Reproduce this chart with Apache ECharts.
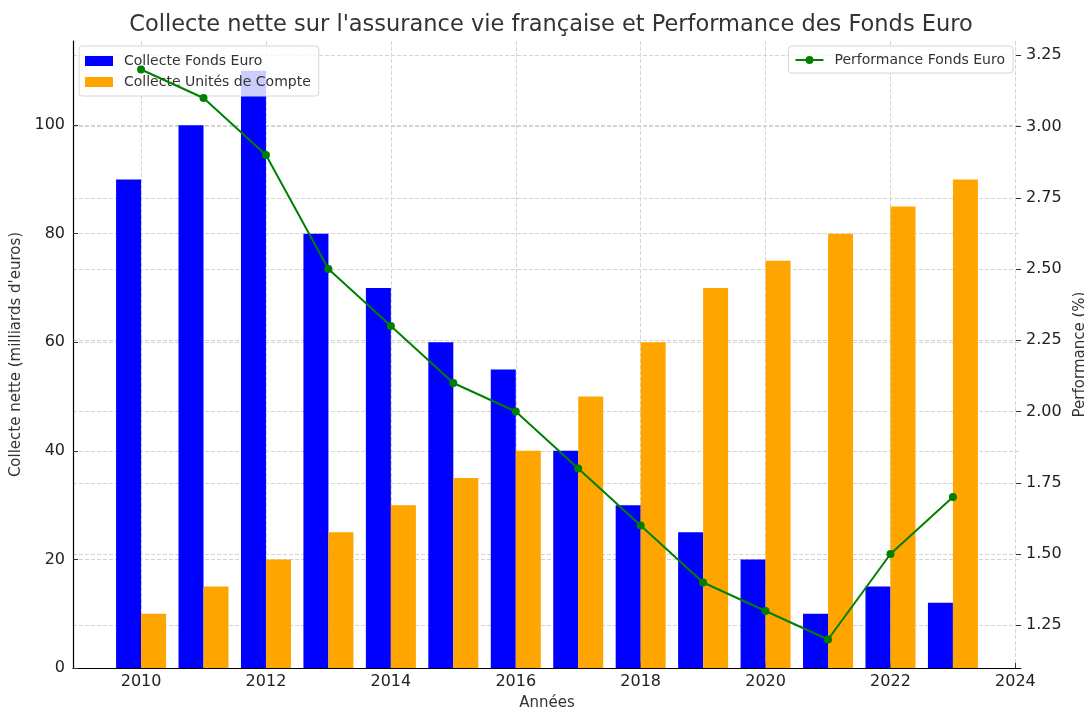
<!DOCTYPE html>
<html>
<head>
<meta charset="utf-8">
<script src="https://cdn.jsdelivr.net/npm/echarts@6/dist/echarts.min.js"></script>
<style>
  html, body { margin: 0; padding: 0; background: #fff; }
  #chart { width: 1084px; height: 709px; }
</style>
</head>
<body>
<div id="chart"></div>
<script>
// données
const years = [2010, 2011, 2012, 2013, 2014, 2015, 2016, 2017, 2018, 2019, 2020, 2021, 2022, 2023];
const fondsEuro = [90, 100, 110, 80, 70, 60, 55, 40, 30, 25, 20, 10, 15, 12];
const unitesCompte = [10, 15, 20, 25, 30, 35, 40, 50, 60, 70, 75, 80, 85, 90];
const performance = [3.2, 3.1, 2.9, 2.5, 2.3, 2.1, 2.0, 1.8, 1.6, 1.4, 1.3, 1.2, 1.5, 1.7];
const xTicks = [2010, 2012, 2014, 2016, 2018, 2020, 2022, 2024];
const leftTicks = [0, 20, 40, 60, 80, 100];
const rightTicks = [1.25, 1.5, 1.75, 2.0, 2.25, 2.5, 2.75, 3.0, 3.25];

const font = 'DejaVu Sans';
const gridLine = { show: true, lineStyle: { color: '#d4d4d4', type: [4, 2], width: 1 } };
const tick = { show: true, inside: true, length: 5, lineStyle: { color: '#333' } };

const chart = echarts.init(document.getElementById('chart'));
chart.setOption({
  animation: false,
  textStyle: { fontFamily: font },
  title: {
    text: "Collecte nette sur l'assurance vie française et Performance des Fonds Euro",
    left: 546, top: 9, textAlign: 'center',
    textStyle: { fontFamily: font, fontSize: 22.5, fontWeight: 'normal', color: '#333' }
  },
  grid: { left: 73, right: 63, top: 41, bottom: 41, containLabel: false, outerBoundsMode: 'none' },
  legend: [
    {
      data: ['Collecte Fonds Euro', 'Collecte Unités de Compte'],
      orient: 'vertical', left: 79, top: 46,
      icon: 'rect', itemWidth: 28, itemHeight: 10, itemGap: 7,
      padding: [8, 8, 7, 6],
      backgroundColor: 'rgba(255,255,255,0.8)',
      borderColor: '#d6d6d6', borderWidth: 1, borderRadius: 3,
      textStyle: { fontFamily: font, fontSize: 14, color: '#333', padding: [0, 0, 0, 6] }
    },
    {
      data: ['Performance Fonds Euro'],
      orient: 'vertical', right: 71, top: 46,
      itemWidth: 28, itemHeight: 10,
      padding: [7, 8, 6, 6],
      backgroundColor: 'rgba(255,255,255,0.8)',
      borderColor: '#d6d6d6', borderWidth: 1, borderRadius: 3,
      textStyle: { fontFamily: font, fontSize: 14, color: '#333', padding: [0, 0, 0, 6] }
    }
  ],
  xAxis: {
    type: 'value',
    min: 2008.91, max: 2024.09,
    name: 'Années', nameLocation: 'middle', nameGap: 28,
    nameTextStyle: { fontFamily: font, fontSize: 15, color: '#333' },
    axisLine: { show: true, onZero: false, lineStyle: { color: '#000', width: 1.2 } },
    axisTick: Object.assign({ customValues: xTicks }, tick),
    axisLabel: { customValues: xTicks, fontSize: 16, color: '#222', margin: 6, formatter: v => String(v) },
    splitLine: gridLine
  },
  yAxis: [
    {
      type: 'value', position: 'left',
      min: 0, max: 115.5,
      name: "Collecte nette (milliards d'euros)", nameLocation: 'middle', nameGap: 42,
      nameTextStyle: { fontFamily: font, fontSize: 15, color: '#333' },
      axisLine: { show: true, lineStyle: { color: '#000', width: 1.2 } },
      axisTick: Object.assign({ customValues: leftTicks }, tick),
      axisLabel: { customValues: leftTicks, fontSize: 16, color: '#222', margin: 8 },
      splitLine: gridLine
    },
    {
      type: 'value', position: 'right',
      min: 1.1, max: 3.3,
      name: 'Performance (%)', nameLocation: 'middle', nameGap: 46,
      nameTextStyle: { fontFamily: font, fontSize: 15, color: '#333' },
      axisLine: { show: true, lineStyle: { color: 'rgba(0,0,0,0)' } },
      axisTick: Object.assign({ customValues: rightTicks }, tick),
      axisLabel: { customValues: rightTicks, fontSize: 16, color: '#222', margin: 5, formatter: v => v.toFixed(2) },
      splitLine: gridLine
    }
  ],
  series: [
    {
      name: 'Collecte Fonds Euro', type: 'bar',
      data: years.map((y, i) => [y, fondsEuro[i]]),
      barWidth: 25, barGap: '0%',
      itemStyle: { color: '#0000ff' }
    },
    {
      name: 'Collecte Unités de Compte', type: 'bar',
      data: years.map((y, i) => [y, unitesCompte[i]]),
      barWidth: 25, barGap: '0%',
      itemStyle: { color: '#ffa500' }
    },
    {
      name: 'Performance Fonds Euro', type: 'line', yAxisIndex: 1,
      data: years.map((y, i) => [y, performance[i]]),
      symbol: 'circle', symbolSize: 8,
      lineStyle: { color: '#008000', width: 2 },
      itemStyle: { color: '#008000' },
      z: 5
    }
  ]
});
</script>
</body>
</html>
